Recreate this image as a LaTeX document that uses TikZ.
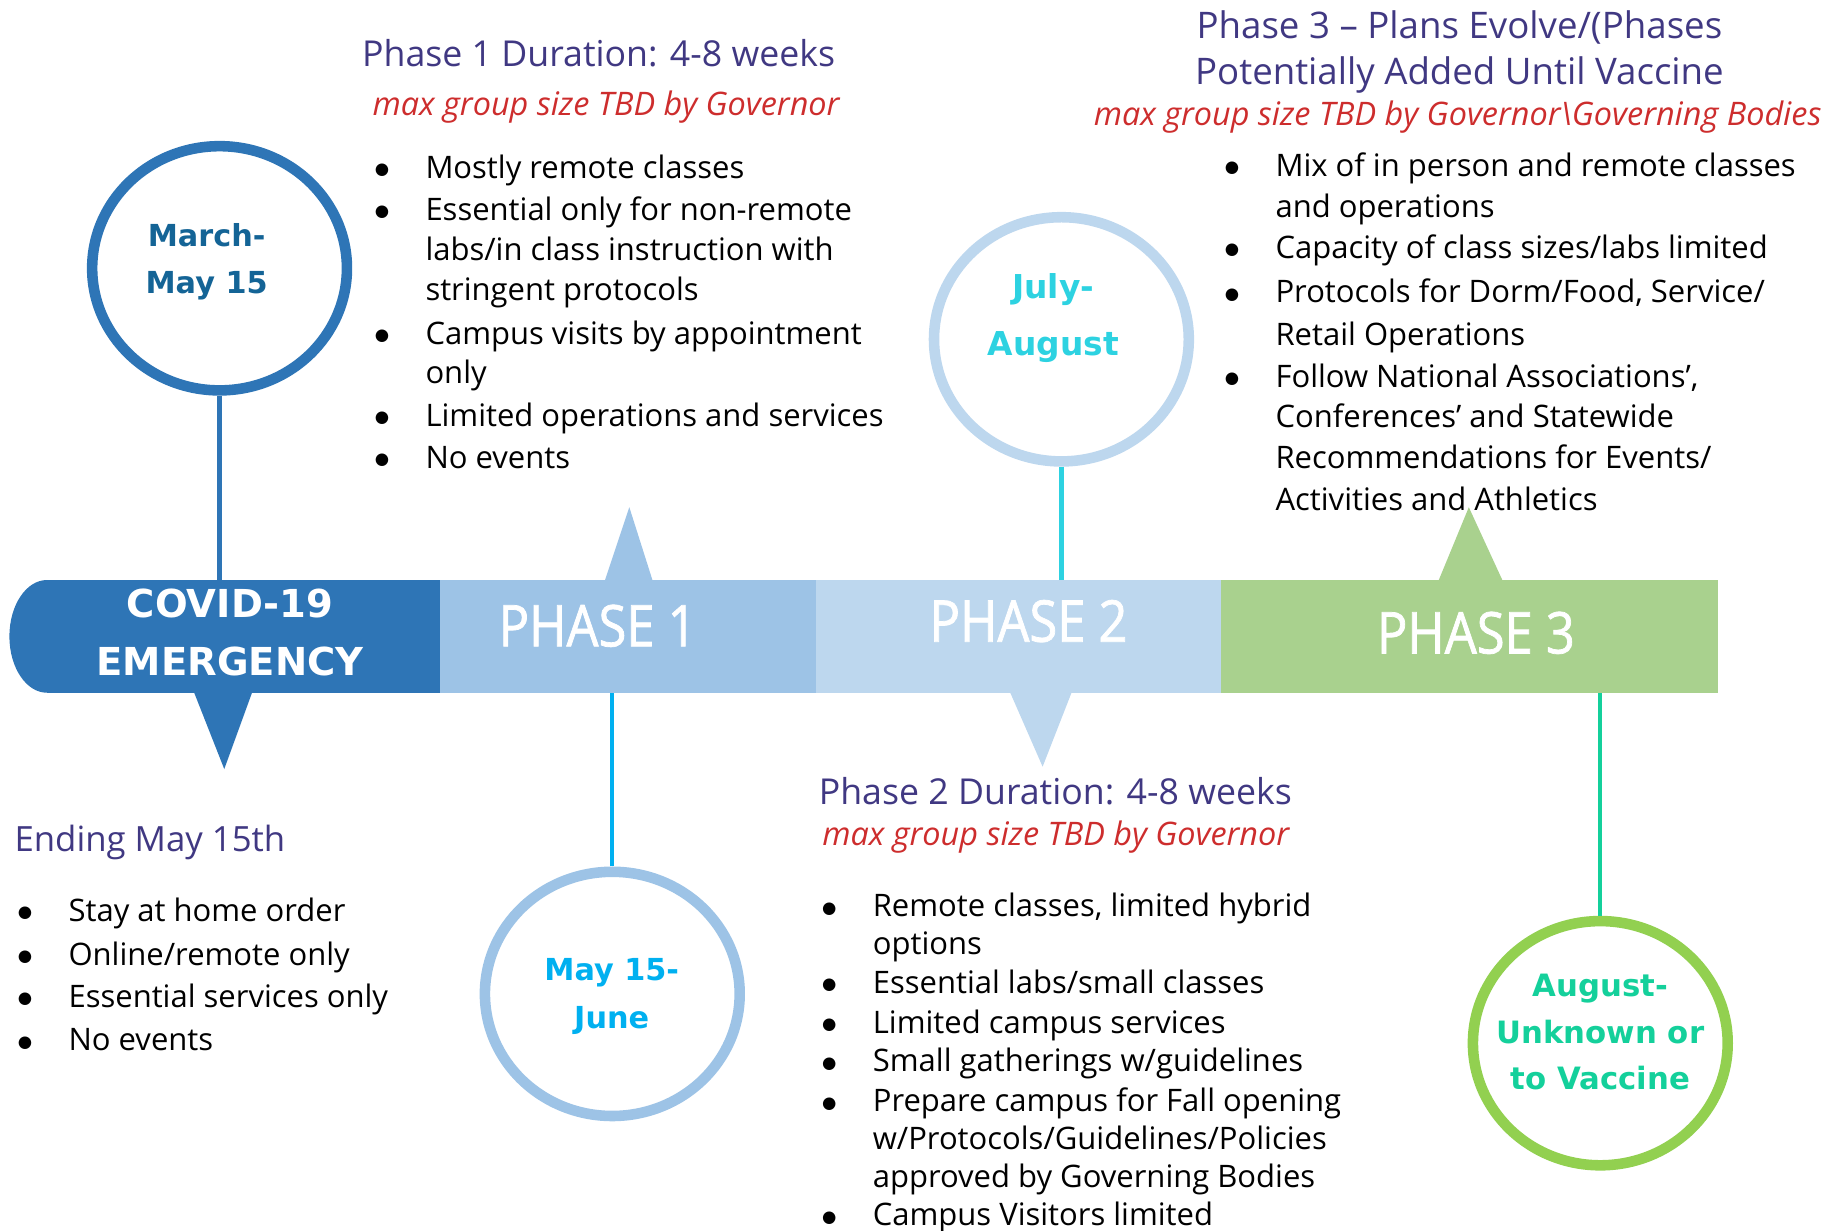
\documentclass[tikz,border=0pt]{standalone}
\usepackage{fontspec}
\setmainfont{Open Sans}
\newfontfamily\boldsans{DejaVu Sans}
\newfontfamily\phasefont[FakeStretch=0.88,FakeBold=1.3]{Open Sans}
\usetikzlibrary{shapes.geometric}
\definecolor{covidcol}{RGB}{46,117,182}
\definecolor{ponecol}{RGB}{157,195,230}
\definecolor{ptwocol}{RGB}{189,215,238}
\definecolor{pthreecol}{RGB}{169,209,142}
\definecolor{circfourcol}{RGB}{146,208,80}
\definecolor{headcol}{RGB}{64,56,130}
\definecolor{govcol}{RGB}{205,45,45}
\definecolor{marchcol}{RGB}{20,100,150}
\definecolor{maycol}{RGB}{0,176,240}
\definecolor{julycol}{RGB}{45,210,225}
\definecolor{augcol}{RGB}{20,208,155}
\newcommand\bl{\llap{\raisebox{1.6pt}{\boldsans\fontsize{7}{7}\selectfont ●}\hspace{15.5pt}}}
\begin{document}
\begin{tikzpicture}[x=0.5pt,y=-0.5pt,
  body/.style={anchor=base west, inner sep=0, font=\fontsize{13.2}{16}\selectfont},
  head/.style={anchor=base west, inner sep=0, text=headcol, font=\fontsize{15.2}{18}\selectfont},
  govline/.style={anchor=base west, inner sep=0, text=govcol, font=\itshape\fontsize{13.8}{16}\selectfont},
  seg/.style={rectangle, inner sep=0, minimum height=48pt, draw=none},
  barlabel/.style={inner sep=0, text=white, font=\phasefont\fontsize{24.5}{28}\selectfont},
  circ/.style={ellipse, draw, line width=4.5pt, fill=white, minimum width=108.5pt, minimum height=104pt, inner sep=0},
  ctext/.style={inner sep=0, align=center, font=\boldsans\bfseries\fontsize{12.9}{20}\selectfont},
  conn/.style={line width=1.8pt}]
\useasboundingbox (0,0) rectangle (1568,1048);

% ---- timeline bar ----
\fill[covidcol] (376,494) -- (40,494) arc[start angle=270, end angle=90, x radius=32, y radius=48] -- (376,590) -- cycle;
\node[seg, fill=covidcol, minimum width=167.5pt] (p0) at (207.5,542) {};
\node[seg, fill=ponecol, minimum width=160pt] (p1) at (535,542) {};
\node[seg, fill=ptwocol, minimum width=172.5pt] (p2) at (867.5,542) {};
\node[seg, fill=pthreecol, minimum width=211.5pt] (p3) at (1251.5,542) {};

% pointers
\fill[covidcol] (165,589) -- (215,589) -- (191,655) -- cycle;
\fill[ponecol] (515,495) -- (556,495) -- (536,432) -- cycle;
\fill[ptwocol] (860,589) -- (913,589) -- (888,653) -- cycle;
\fill[pthreecol] (1225,495) -- (1280,495) -- (1251,432) -- cycle;

% bar labels
\node[inner sep=0, text=white, align=center, font=\boldsans\bfseries\fontsize{16.4}{24.5}\selectfont] (covidlbl) at (196,538.5) {COVID-19\\EMERGENCY};
\node[barlabel] (p1lbl) at (509,533) {PHASE 1};
\node[barlabel] (p2lbl) at (876,529) {PHASE 2};
\node[barlabel] (p3lbl) at (1257,539) {PHASE 3};

% ---- circles ----
\node[circ, draw=covidcol] (c1) at (187,228.5) {};
\node[circ, draw=ponecol] (c2) at (521.5,846.5) {};
\node[circ, draw=ptwocol] (c3) at (904,289) {};
\node[circ, draw=circfourcol] (c4) at (1363,888.5) {};

\node[ctext, text=marchcol] (c1t) at (176,223) {March-\\May 15};
\node[ctext, text=maycol, font=\boldsans\bfseries\fontsize{12.9}{20.5}\selectfont] (c2t) at (521,848.5) {May 15-\\June};
\node[ctext, text=julycol, font=\boldsans\bfseries\fontsize{14}{24}\selectfont] (c3t) at (897,271) {July-\\August};
\node[ctext, text=augcol, font=\boldsans\bfseries\fontsize{13.1}{19.75}\selectfont] (c4t) at (1363,879) {August-\\Unknown or\\to Vaccine};

% connectors
\draw[conn, covidcol] (c1.south) -- (c1.south |- p0.north);
\draw[conn, maycol] (c2.north) -- (c2.north |- p1.south);
\draw[conn, julycol] (c3.south) -- (c3.south |- p2.north);
\draw[conn, augcol] (c4.north) -- (c4.north |- p3.south);

% ---- Phase 1 text ----
\node[head] (h1) at (308,57) {Phase 1 Duration: 4-8 weeks};
\node[govline] (g1) at (317,98) {max group size TBD by Governor};
\node[body] (a1) at (362,152) {\bl Mostly remote classes};
\node[body] (a2) at (362,188) {\bl Essential only for non-remote};
\node[body] (a3) at (362,222) {labs/in class instruction with};
\node[body] (a4) at (362,256) {stringent protocols};
\node[body] (a5) at (362,293) {\bl Campus visits by appointment};
\node[body] (a6) at (362,327) {only};
\node[body] (a7) at (362,363) {\bl Limited operations and services};
\node[body] (a8) at (362,399) {\bl No events};

% ---- Phase 3 text ----
\node[head, anchor=base, font=\fontsize{15.6}{18}\selectfont] (h3a) at (1243,33) {Phase 3 – Plans Evolve/(Phases};
\node[head, anchor=base, font=\fontsize{15.6}{18}\selectfont] (h3b) at (1243,72) {Potentially Added Until Vaccine};
\node[govline, anchor=base] (g3) at (1241.5,107) {max group size TBD by Governor\textbackslash Governing Bodies};
\node[body] (b1) at (1086,150) {\bl Mix of in person and remote classes};
\node[body] (b2) at (1086,185) {and operations};
\node[body] (b3) at (1086,220) {\bl Capacity of class sizes/labs limited};
\node[body] (b4) at (1086,258) {\bl Protocols for Dorm/Food, Service/};
\node[body] (b5) at (1086,294) {Retail Operations};
\node[body] (b6) at (1086,330) {\bl Follow National Associations’,};
\node[body] (b7) at (1086,364) {Conferences’ and Statewide};
\node[body] (b8) at (1086,399) {Recommendations for Events/};
\node[body] (b9) at (1086,435) {Activities and Athletics};

% ---- Phase 2 text ----
\node[head] (h2) at (697,685) {Phase 2 Duration: 4-8 weeks};
\node[govline] (g2) at (700,720) {max group size TBD by Governor};
\node[body] (d1) at (743,781) {\bl Remote classes, limited hybrid};
\node[body] (d2) at (743,813) {options};
\node[body] (d3) at (743,846) {\bl Essential labs/small classes};
\node[body] (d4) at (743,880) {\bl Limited campus services};
\node[body] (d5) at (743,913) {\bl Small gatherings w/guidelines};
\node[body] (d6) at (743,947) {\bl Prepare campus for Fall opening};
\node[body] (d7) at (743,979) {w/Protocols/Guidelines/Policies};
\node[body] (d8) at (743,1011) {approved by Governing Bodies};
\node[body] (d9) at (743,1044) {\bl Campus Visitors limited};

% ---- Emergency text ----
\node[head, font=\fontsize{14.8}{18}\selectfont] (h0) at (12,725) {Ending May 15th};
\node[body] (e1) at (58,785) {\bl Stay at home order};
\node[body] (e2) at (58,822) {\bl Online/remote only};
\node[body] (e3) at (58,858) {\bl Essential services only};
\node[body] (e4) at (58,895) {\bl No events};
\end{tikzpicture}
\end{document}
